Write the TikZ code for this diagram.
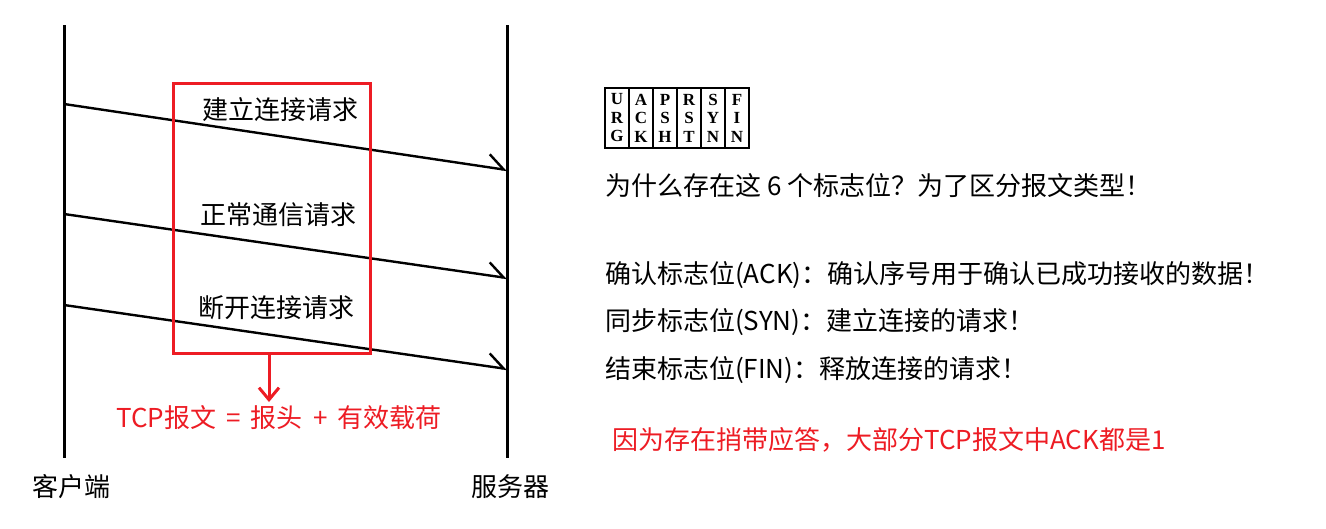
\documentclass[tikz,border=0pt]{standalone}
\usepackage{fontspec}
\setmainfont{Noto Sans CJK SC}
\newfontfamily\flagfont{Liberation Serif}
\usepackage{xcolor}
\usetikzlibrary{positioning,arrows.meta}
\definecolor{markred}{HTML}{ED1C24}

\begin{document}
\begin{tikzpicture}[
  x=1pt, y=-1pt,
  font=\fontsize{26}{30}\selectfont,
  life/.style={line width=3pt},
  msg/.style={line width=2.4pt, -{Straight Barb[harpoon, length=16pt, width=26pt, line width=2.4pt]}},
  lbl/.style={inner sep=0pt, font=\fontsize{26}{30}\selectfont},
  note/.style={inner sep=0pt, anchor=west},
  flagcell/.style={draw, line width=1.2pt, minimum width=24pt, minimum height=60pt,
                   inner sep=0pt, align=center,
                   font=\flagfont\bfseries\fontsize{17}{18.5}\selectfont},
  redbox/.style={draw=markred, line width=3pt},
  redar/.style={markred, line width=3pt,
                -{Straight Barb[length=12pt, width=20pt, line width=3pt]}},
]
\useasboundingbox (0,0) rectangle (1326,528);

% lifelines
\coordinate (ctop) at (64,25);
\coordinate (cbot) at (64,458);
\coordinate (stop) at (507,25);
\coordinate (sbot) at (507,458);
\draw[life] (ctop) -- (cbot);
\draw[life] (stop) -- (sbot);
\node[inner sep=0pt] (client) at (71,487) {客户端};
\node[inner sep=0pt] (server) at (510,487) {服务器};

% requests
\foreach \i/\ya/\yb in {1/104/170, 2/214/278, 3/305/369} {
  \coordinate (c\i) at (64,\ya);
  \coordinate (s\i) at (507,\yb);
  \draw[msg] (c\i) -- (s\i);
}
\node[lbl] (r1) at (280,110) {建立连接请求};
\node[lbl] (r2) at (278,215) {正常通信请求};
\node[lbl] (r3) at (276,308) {断开连接请求};

% segment box
\node[redbox, minimum width=197pt, minimum height=270pt, inner sep=0pt] (seg) at (271.5,218) {};
\node[inner sep=0pt, text=markred] (segtxt) at (279,418) {TCP报文\,\ =\ \,报头\,\ +\ \,有效载荷};
\draw[redar] (seg.south -| 269,0) -- (269,402) coordinate (segtip);

% flag bits
\foreach \i/\t in {1/U\\R\\G, 2/A\\C\\K, 3/P\\S\\H, 4/R\\S\\T, 5/S\\Y\\N, 6/F\\I\\N} {
  \node[flagcell] (f\i) at (593+24*\i,118) {\t};
}

% notes
\node[note] (why) at (605,186) {为什么存在这 6 个标志位？为了区分报文类型！};
\node[note] (ack) at (605,275) {确认标志位(ACK)：确认序号用于确认已成功接收的数据！};
\node[note] (syn) at (605,322) {同步标志位(SYN)：建立连接的请求！};
\node[note] (fin) at (605,370) {结束标志位(FIN)：释放连接的请求！};
\node[note, text=markred] (piggy) at (612,440) {因为存在捎带应答，大部分TCP报文中ACK都是1};
\end{tikzpicture}
\end{document}
